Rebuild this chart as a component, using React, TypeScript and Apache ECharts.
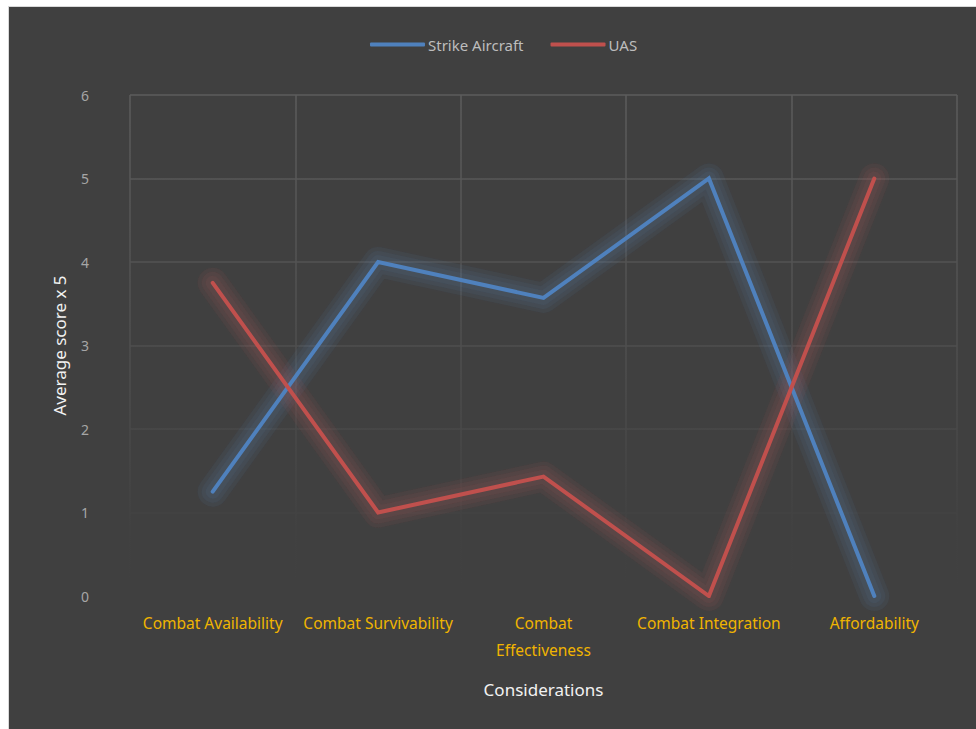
import React, { useEffect, useRef } from "react";
import * as echarts from "echarts";

const categories = [
  "Combat Availability",
  "Combat Survivability",
  "Combat Effectiveness",
  "Combat Integration",
  "Affordability",
];
const strikeAircraft = [1.25, 4, 3.57, 5, 0];
const uas = [3.75, 1, 1.43, 0, 5];
const yTicks = { min: 0, max: 6, interval: 1 };

const FONT = "'Noto Sans', 'DejaVu Sans', sans-serif";
const BG = "#404040";
const BLUE = "#4f81bd";
const RED = "#c0504d";

// grid lines fade out toward the bottom of the plot
const fadeGradient = () =>
  new echarts.graphic.LinearGradient(
    0,
    88,
    0,
    589,
    [
      { offset: 0, color: "#5c5c5c" },
      { offset: 0.55, color: "#4d4d4d" },
      { offset: 0.88, color: "#414141" },
      { offset: 1, color: BG },
    ],
    true
  );

// soft glow: a few wide translucent strokes stacked under each line
const haloWidths = [30, 22, 14];
const halos = (key: string, data: number[], rgb: string) =>
  haloWidths.map((w) => ({
    id: `${key}-halo-${w}`,
    type: "line",
    data,
    symbol: "none",
    silent: true,
    z: 1,
    lineStyle: {
      width: w,
      cap: "round",
      join: "round",
      color: `rgba(${rgb},0.075)`,
      shadowBlur: 8,
      shadowColor: `rgba(${rgb},0.15)`,
    },
  }));

export default function App() {
  const ref = useRef<HTMLDivElement>(null);

  useEffect(() => {
    if (!ref.current) return;
    const chart = echarts.init(ref.current, undefined, { renderer: "svg" });
    chart.setOption({
      animation: false,
      backgroundColor: BG,
      textStyle: { fontFamily: FONT },
      legend: {
        top: 25,
        left: 356,
        itemWidth: 55,
        itemHeight: 4,
        itemGap: 27,
        icon: "roundRect",
        textStyle: { color: "#bdbdbd", fontSize: 15, fontFamily: FONT, padding: [0, 0, 0, -2] },
        data: ["Strike Aircraft", "UAS"],
      },
      grid: { left: 121, right: 19, top: 88, bottom: 133 },
      xAxis: {
        type: "category",
        data: categories,
        boundaryGap: true,
        name: "Considerations",
        nameLocation: "middle",
        nameGap: 85,
        nameTextStyle: { color: "#f2f2f2", fontSize: 17, fontFamily: FONT },
        axisLine: { show: false },
        axisTick: { show: false },
        axisLabel: {
          color: "#f0b400",
          fontSize: 15.5,
          margin: 13,
          lineHeight: 27,
          interval: 0,
          fontFamily: FONT,
          formatter: (v: string) =>
            v === "Combat Effectiveness" ? "Combat\nEffectiveness" : v,
        },
        splitLine: {
          show: true,
          interval: 0,
          lineStyle: { color: fadeGradient(), width: 1.5 },
        },
      },
      yAxis: {
        type: "value",
        min: yTicks.min,
        max: yTicks.max,
        interval: yTicks.interval,
        name: "Average score x 5",
        nameLocation: "middle",
        nameGap: 62,
        nameTextStyle: { color: "#f2f2f2", fontSize: 17, fontFamily: FONT },
        axisLine: { show: false },
        axisTick: { show: false },
        axisLabel: { color: "#a6a6a6", fontSize: 14, margin: 41, fontFamily: FONT },
        splitLine: { lineStyle: { color: fadeGradient(), width: 1.5 } },
      },
      series: [
        ...halos("strike", strikeAircraft, "79,129,189"),
        ...halos("uas", uas, "192,80,77"),
        {
          name: "Strike Aircraft",
          type: "line",
          data: strikeAircraft,
          symbol: "none",
          color: BLUE,
          z: 3,
          lineStyle: { width: 4, cap: "round", join: "miter", color: BLUE },
        },
        {
          name: "UAS",
          type: "line",
          data: uas,
          symbol: "none",
          color: RED,
          z: 3,
          lineStyle: { width: 4, cap: "round", join: "miter", color: RED },
        },
      ],
    });
    return () => chart.dispose();
  }, []);

  return (
    <div
      style={{
        position: "fixed",
        left: 8,
        top: 6,
        width: 968,
        height: 723,
        borderLeft: "1px solid #d9d9d9",
        borderTop: "1px solid #d9d9d9",
        background: BG,
      }}
    >
      <div ref={ref} style={{ width: 967, height: 722 }} />
    </div>
  );
}
